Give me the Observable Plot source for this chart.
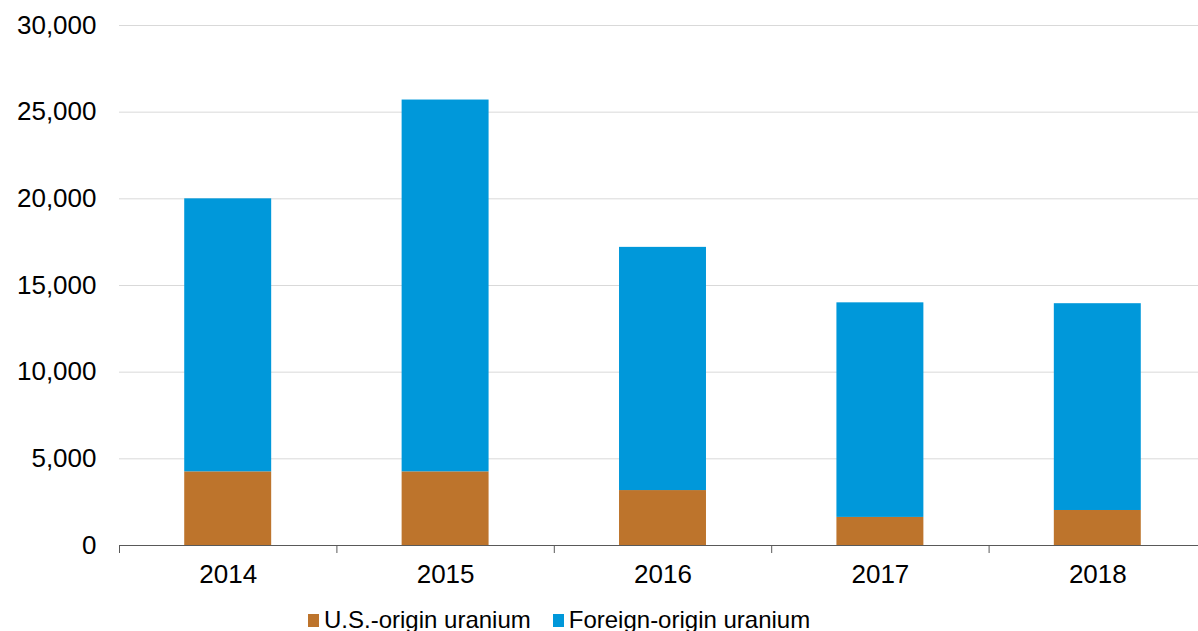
<!DOCTYPE html>
<html>
<head>
<meta charset="utf-8">
<script src="https://cdn.jsdelivr.net/npm/d3@7"></script>
<script src="https://cdn.jsdelivr.net/npm/@observablehq/plot@0.6"></script>
<style>
  html, body { margin: 0; padding: 0; background: #fff; overflow: hidden; }
  body { width: 1198px; height: 631px; position: relative; font-family: "Liberation Sans", Arial, sans-serif; }
  #legend { position: absolute; left: 308px; top: 606px; display: flex; align-items: center; font-size: 24px; color: #000; white-space: nowrap; }
  .item { display: flex; align-items: center; margin-right: 22px; }
  .sw { width: 11px; height: 13px; margin-right: 5px; }
</style>
</head>
<body>
<div id="chart"></div>
<div id="legend"></div>
<script>
const years = [2014, 2015, 2016, 2017, 2018];
const usOrigin = [4250, 4250, 3170, 1620, 2020];
const foreignOrigin = [15750, 21450, 14030, 12380, 11930];
const seriesNames = ["U.S.-origin uranium", "Foreign-origin uranium"];
const seriesColors = ["#BD742C", "#0098DA"];
const yTicks = [0, 5000, 10000, 15000, 20000, 25000, 30000];

const rows = [];
years.forEach((yr, i) => {
  rows.push({year: yr, series: seriesNames[0], y1: 0, y2: usOrigin[i]});
  rows.push({year: yr, series: seriesNames[1], y1: usOrigin[i], y2: usOrigin[i] + foreignOrigin[i]});
});
const boundaries = years.map(y => y - 0.5).concat([years[years.length - 1] + 0.5]);
const halfBar = 0.2;

const chart = Plot.plot({
  width: 1198,
  height: 600,
  marginLeft: 119,
  marginRight: 0,
  marginTop: 25,
  marginBottom: 55,
  style: {fontFamily: "'Liberation Sans', Arial, sans-serif", fontSize: "26px", color: "#000", background: "#fff"},
  x: {type: "linear", domain: [years[0] - 0.5, years[years.length - 1] + 0.5], range: [119, 1206]},
  y: {domain: [0, 30000]},
  color: {domain: seriesNames, range: seriesColors},
  marks: [
    Plot.gridY({ticks: yTicks, stroke: "#d9d9d9", strokeOpacity: 1, strokeWidth: 1}),
    Plot.axisY({ticks: yTicks, tickSize: 0, tickPadding: 23, tickFormat: d3.format(","), fontSize: 26, label: null}),
    Plot.rect(rows, {x1: d => d.year - halfBar, x2: d => d.year + halfBar, y1: "y1", y2: "y2", fill: "series"}),
    Plot.ruleY([0], {stroke: "#595959", strokeWidth: 1}),
    Plot.axisX({ticks: boundaries, tickSize: 8, tickFormat: () => "", stroke: "#595959", strokeOpacity: 1, label: null}),
    Plot.axisX({ticks: years, tickSize: 0, tickPadding: 19, tickFormat: d => String(d), fontSize: 26, label: null})
  ]
});
document.getElementById("chart").appendChild(chart);

const legend = document.getElementById("legend");
seriesNames.forEach((name, i) => {
  const item = document.createElement("div");
  item.className = "item";
  const sw = document.createElement("div");
  sw.className = "sw";
  sw.style.background = seriesColors[i];
  const label = document.createElement("span");
  label.textContent = name;
  item.appendChild(sw);
  item.appendChild(label);
  legend.appendChild(item);
});
</script>
</body>
</html>
